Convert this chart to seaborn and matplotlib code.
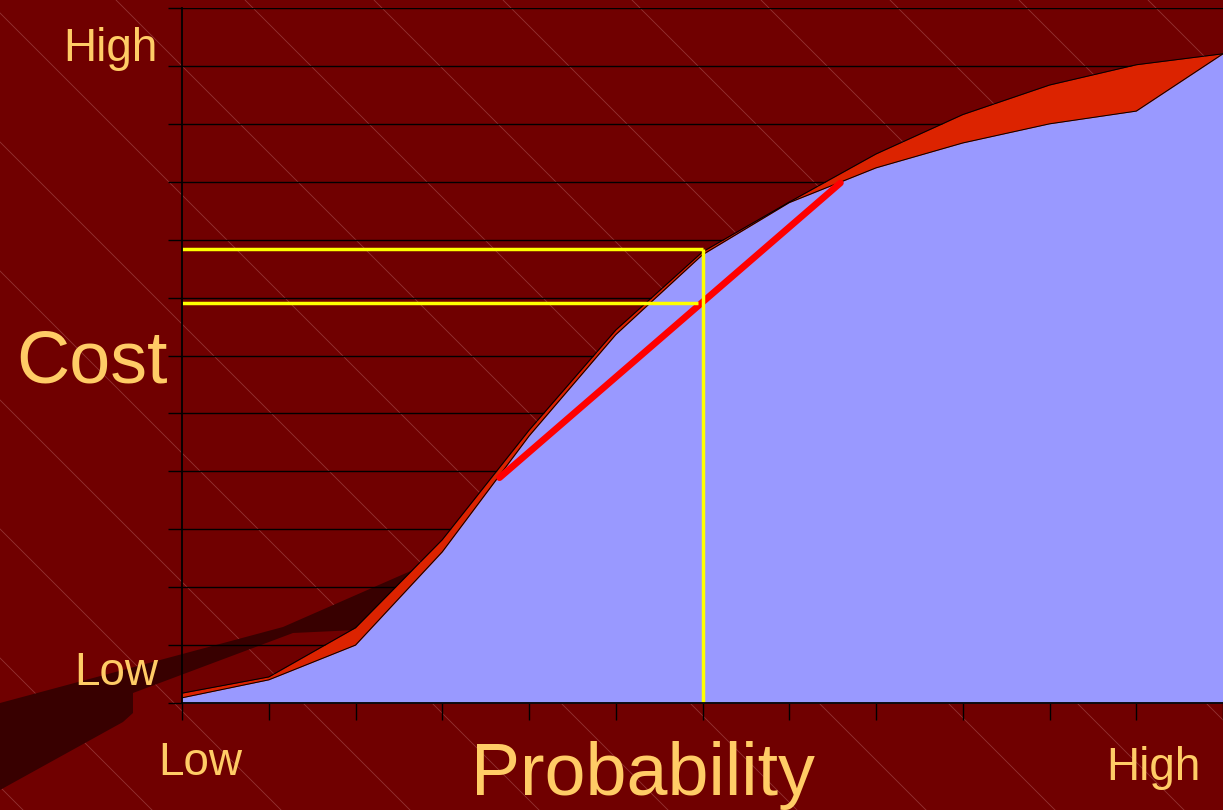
"""
Cost vs probability S-curve, dark red slide style.
"""

import matplotlib.pyplot as plt
import numpy as np
import seaborn as sns
from matplotlib.lines import Line2D
from matplotlib.patches import Polygon

sns.set_theme(style="white")
plt.rcParams["font.family"] = ["Liberation Sans", "DejaVu Sans"]

BG = "#700000"
TXT = "#ffcc66"

# data (axis units: 0..12 on both axes)
prob = [0, 1, 2, 3, 4, 5, 6, 7, 8, 9, 10, 11, 12]
cost_upper = [0.17, 0.45, 1.30, 2.82, 4.71, 6.44, 7.79, 8.65, 9.48, 10.16, 10.67, 11.02, 11.21]
cost_lower = [0.09, 0.40, 1.00, 2.61, 4.61, 6.36, 7.74, 8.64, 9.24, 9.67, 10.00, 10.22, 11.21]

tangent_x = [3.66, 7.59]
tangent_y = [3.89, 8.98]

marker_prob = 6.0
marker_cost_hi = 7.84
marker_cost_lo = 6.91

fig = plt.figure(figsize=(12.23, 8.10), dpi=100, facecolor=BG)
W, H = 1223, 810


def fx(px):
    return px / W


def fy(py):
    return 1 - py / H


# faint diagonal texture
for k in range(-8, 11):
    x0 = -13 + 129 * k
    fig.add_artist(Line2D([fx(x0), fx(x0 + 1100)], [fy(0), fy(1100)],
                          transform=fig.transFigure, color="#c88080",
                          lw=0.6, alpha=0.4, zorder=-2))

# dark shadow band at lower left
shadow_px = [(0, 703), (283, 627), (413, 570), (440, 556), (357, 630), (293, 633),
             (133, 693), (133, 713), (123, 722), (0, 790)]
fig.add_artist(Polygon([(fx(a), fy(b)) for a, b in shadow_px], closed=True,
                       transform=fig.transFigure, facecolor="#380000",
                       edgecolor="none", zorder=-1))

ax = fig.add_axes([fx(182), fy(703), 1 - fx(182), fy(8) - fy(703)])
ax.set_facecolor("none")

ax.fill_between(prob, 0, cost_upper, color="#dc2300", lw=0, zorder=2)
ax.fill_between(prob, 0, cost_lower, color="#9999ff", lw=0, zorder=3)
sns.lineplot(x=prob, y=cost_upper, ax=ax, color="black", lw=0.7, zorder=4)
sns.lineplot(x=prob, y=cost_lower, ax=ax, color="black", lw=0.7, zorder=4)

sns.lineplot(x=tangent_x, y=tangent_y, ax=ax, color="#ff0000", lw=4.8, zorder=5)

ax.plot([0, marker_prob], [marker_cost_hi, marker_cost_hi], color="#ffff00", lw=2.5,
        solid_capstyle="butt", zorder=6, clip_on=False)
ax.plot([0, marker_prob - 0.05], [marker_cost_lo, marker_cost_lo], color="#ffff00", lw=2.5,
        solid_capstyle="butt", zorder=6, clip_on=False)
ax.plot([marker_prob, marker_prob], [0, marker_cost_hi], color="#ffff00", lw=2.5,
        solid_capstyle="butt", zorder=6)

ax.set_xlim(0, 12)
ax.set_ylim(0, 12)
ax.set_xticks(range(0, 13))
ax.set_yticks(range(0, 13))
ax.set_xticklabels([])
ax.set_yticklabels([])
ax.grid(axis="y", color="black", lw=1.0, zorder=1)
ax.set_axisbelow(True)
ax.tick_params(axis="y", direction="out", length=10, width=1.0, color="black", left=True)
ax.tick_params(axis="x", direction="out", length=12, width=1.0, color="black", bottom=True)
for side in ["top", "right"]:
    ax.spines[side].set_visible(False)
for side in ["left", "bottom"]:
    ax.spines[side].set_color("black")
    ax.spines[side].set_linewidth(1.3)
    ax.spines[side].set_zorder(7)

fig.text(fx(158), fy(61), "High", color=TXT, fontsize=33, ha="right", va="baseline")
fig.text(fx(158), fy(685), "Low", color=TXT, fontsize=33, ha="right", va="baseline")
fig.text(fx(92), fy(383), "Cost", color=TXT, fontsize=53, ha="center", va="baseline")
fig.text(fx(200), fy(775), "Low", color=TXT, fontsize=33, ha="center", va="baseline")
fig.text(fx(1153), fy(780), "High", color=TXT, fontsize=33, ha="center", va="baseline")
fig.text(fx(643), fy(795), "Probability", color=TXT, fontsize=53, ha="center", va="baseline")

plt.savefig("out.png", dpi=100, facecolor=BG)
